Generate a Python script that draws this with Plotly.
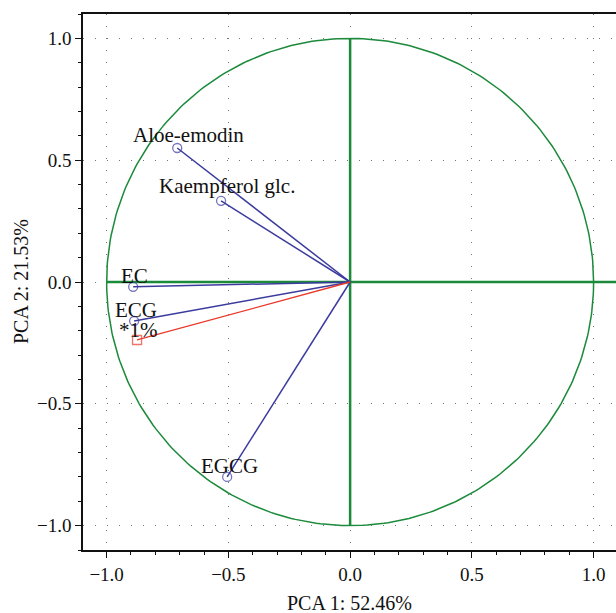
import numpy as np
import plotly.graph_objects as go

# Loadings
variables = ["Aloe-emodin", "Kaempferol glc.", "EC", "ECG", "EGCG"]
pc1 = [-0.71, -0.53, -0.891, -0.887, -0.505]
pc2 = [0.55, 0.333, -0.02, -0.16, -0.80]

# supplementary variable (red)
sup_name = ["*1%"]
sup_pc1 = [-0.875]
sup_pc2 = [-0.238]

# label positions (data coords)
lab_x = [-0.665, -0.505, -0.885, -0.878, -0.495]
lab_y = [0.604, 0.394, 0.025, -0.115, -0.756]
sup_lab_x = [-0.869]
sup_lab_y = [-0.197]

x_ticks = [-1.0, -0.5, 0.0, 0.5, 1.0]
y_ticks = [-1.0, -0.5, 0.0, 0.5, 1.0]

BLUE = "#3b3b9e"
RED = "#e8392b"
GREEN = "#1b8a3a"
FONT = "Liberation Serif"
INK = "#111111"

fig = go.Figure()

# unit circle
theta = np.linspace(0, 2 * np.pi, 361)
fig.add_trace(go.Scatter(x=np.cos(theta), y=np.sin(theta), mode="lines",
                         line=dict(color=GREEN, width=1.5), hoverinfo="skip", showlegend=False))
# green axes
fig.add_trace(go.Scatter(x=[-1, 1.2], y=[0, 0], mode="lines",
                         line=dict(color=GREEN, width=2.5), hoverinfo="skip", showlegend=False))
fig.add_trace(go.Scatter(x=[0, 0], y=[-1, 1], mode="lines",
                         line=dict(color=GREEN, width=2.5), hoverinfo="skip", showlegend=False))

# vectors
for name, vx, vy in zip(variables, pc1, pc2):
    fig.add_trace(go.Scatter(x=[0, vx], y=[0, vy], mode="lines+markers",
                             line=dict(color=BLUE, width=1.5),
                             marker=dict(symbol=["circle-open", "circle-open"], size=[0, 9],
                                         color=BLUE, line=dict(width=1.3)),
                             name=name, showlegend=False))
for name, vx, vy in zip(sup_name, sup_pc1, sup_pc2):
    fig.add_trace(go.Scatter(x=[0, vx], y=[0, vy], mode="lines+markers",
                             line=dict(color=RED, width=1.3),
                             marker=dict(symbol=["square-open", "square-open"], size=[0, 9],
                                         color=RED, line=dict(width=1.3)),
                             name=name, showlegend=False))

for name, lx, ly in zip(variables + sup_name, lab_x + sup_lab_x, lab_y + sup_lab_y):
    fig.add_annotation(x=lx, y=ly, text=name, showarrow=False,
                       font=dict(family=FONT, size=21, color=INK),
                       xanchor="center", yanchor="middle")

axis_common = dict(
    showline=True, linecolor=INK, linewidth=1.5,
    ticks="outside", ticklen=6, tickwidth=1, tickcolor=INK,
    showgrid=True, gridcolor="#777777", gridwidth=1, griddash="1px,11px",
    zeroline=False, tickformat=".1f",
    tickfont=dict(family=FONT, size=19, color=INK),
    minor=dict(dtick=0.1, ticks="outside", ticklen=3, tickcolor=INK, showgrid=False),
)

fig.update_xaxes(range=[-1.097, 1.092], tickvals=x_ticks, mirror=True, **axis_common)
fig.update_yaxes(range=[-1.1, 1.1], tickvals=y_ticks, **axis_common)

fig.add_annotation(x=0.5, y=0, xref="paper", yref="paper", yshift=-53,
                   text="PCA 1: 52.46%", showarrow=False, xanchor="center", yanchor="middle",
                   font=dict(family=FONT, size=20, color=INK))
fig.add_annotation(x=0, y=0.5, xref="paper", yref="paper", xshift=-62,
                   text="PCA 2: 21.53%", showarrow=False, textangle=-90,
                   xanchor="center", yanchor="middle",
                   font=dict(family=FONT, size=20, color=INK))

fig.update_layout(width=616, height=613, margin=dict(l=83, r=0, t=14, b=63),
                  font=dict(family=FONT, color=INK),
                  plot_bgcolor="white", paper_bgcolor="white", showlegend=False)

fig.write_html("out.html", config={"displayModeBar": False},
               post_script="document.body.style.margin='0';document.body.style.overflow='hidden';")
